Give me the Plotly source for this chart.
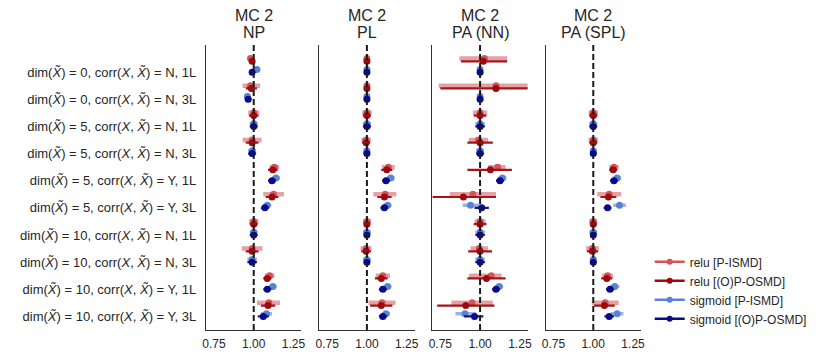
import plotly.graph_objects as go

# row labels (top to bottom)
dims = [0, 0, 5, 5, 5, 5, 10, 10, 10, 10]
corrs = ["N", "N", "N", "N", "Y", "Y", "N", "N", "Y", "Y"]
layers = ["1L", "3L", "1L", "3L", "1L", "3L", "1L", "3L", "1L", "3L"]

panel_top = ["MC 2", "MC 2", "MC 2", "MC 2"]
panel_bottom = ["NP", "PL", "PA (NN)", "PA (SPL)"]
series_names = ["relu [P-ISMD]", "relu [(O)P-OSMD]", "sigmoid [P-ISMD]", "sigmoid [(O)P-OSMD]"]

# --- NP ---
np_relu_p = [0.98, 0.98, 1.00, 0.99, 1.13, 1.125, 1.00, 0.99, 1.10, 1.095]
np_relu_p_lo = [0.965, 0.93, 0.965, 0.93, 1.10, 1.06, 0.97, 0.925, 1.07, 1.02]
np_relu_p_hi = [0.995, 1.04, 1.035, 1.05, 1.16, 1.19, 1.03, 1.055, 1.13, 1.165]
np_relu_o = [0.99, 0.985, 1.00, 0.99, 1.12, 1.115, 1.00, 0.99, 1.085, 1.09]
np_relu_o_lo = [0.975, 0.95, 0.97, 0.95, 1.09, 1.075, 0.975, 0.95, 1.06, 1.045]
np_relu_o_hi = [1.005, 1.02, 1.03, 1.03, 1.15, 1.155, 1.025, 1.03, 1.11, 1.135]
np_sig_p = [1.02, 0.96, 1.00, 0.99, 1.14, 1.085, 1.00, 0.99, 1.12, 1.08]
np_sig_p_lo = [1.005, 0.94, 0.975, 0.965, 1.115, 1.06, 0.975, 0.96, 1.095, 1.045]
np_sig_p_hi = [1.035, 0.98, 1.025, 1.015, 1.165, 1.11, 1.025, 1.02, 1.145, 1.115]
np_sig_o = [0.99, 0.965, 1.00, 0.99, 1.115, 1.07, 1.00, 0.99, 1.085, 1.06]
np_sig_o_lo = [0.98, 0.945, 0.975, 0.965, 1.09, 1.045, 0.975, 0.96, 1.06, 1.025]
np_sig_o_hi = [1.00, 0.985, 1.025, 1.015, 1.14, 1.095, 1.025, 1.02, 1.11, 1.095]

# --- PL ---
pl_relu_p = [1.00, 1.00, 1.00, 0.995, 1.135, 1.115, 1.00, 0.995, 1.10, 1.095]
pl_relu_p_lo = [0.995, 0.995, 0.97, 0.965, 1.095, 1.04, 0.975, 0.96, 1.055, 1.01]
pl_relu_p_hi = [1.005, 1.005, 1.03, 1.025, 1.175, 1.185, 1.025, 1.03, 1.145, 1.18]
pl_relu_o = [1.00, 1.00, 1.00, 0.995, 1.125, 1.11, 1.00, 0.995, 1.09, 1.09]
pl_relu_o_lo = [0.995, 0.995, 0.975, 0.97, 1.09, 1.065, 0.98, 0.965, 1.05, 1.02]
pl_relu_o_hi = [1.005, 1.005, 1.025, 1.02, 1.16, 1.155, 1.02, 1.025, 1.13, 1.16]
pl_sig_p = [1.00, 1.00, 1.00, 1.00, 1.15, 1.13, 1.00, 1.00, 1.13, 1.12]
pl_sig_p_lo = [0.995, 0.995, 0.975, 0.98, 1.125, 1.105, 0.975, 0.975, 1.105, 1.095]
pl_sig_p_hi = [1.005, 1.005, 1.025, 1.02, 1.175, 1.155, 1.025, 1.025, 1.155, 1.145]
pl_sig_o = [1.00, 1.00, 1.00, 1.00, 1.12, 1.11, 1.00, 1.00, 1.10, 1.10]
pl_sig_o_lo = [0.995, 0.995, 0.975, 0.98, 1.095, 1.085, 0.98, 0.98, 1.075, 1.075]
pl_sig_o_hi = [1.005, 1.005, 1.025, 1.02, 1.145, 1.135, 1.02, 1.02, 1.125, 1.125]

# --- PA (NN) ---
nn_relu_p = [1.027, 1.10, 1.00, 0.99, 1.11, 0.955, 1.00, 0.995, 1.07, 0.95]
nn_relu_p_lo = [0.87, 0.74, 0.955, 0.93, 1.05, 0.81, 0.965, 0.94, 0.93, 0.82]
nn_relu_p_hi = [1.17, 1.30, 1.045, 1.05, 1.16, 1.10, 1.035, 1.05, 1.135, 1.08]
nn_relu_o = [1.02, 1.10, 1.00, 1.00, 1.065, 0.895, 1.00, 1.00, 1.04, 0.91]
nn_relu_o_lo = [0.88, 0.75, 0.96, 0.92, 0.92, 0.70, 0.96, 0.925, 0.92, 0.73]
nn_relu_o_hi = [1.17, 1.30, 1.04, 1.08, 1.20, 1.10, 1.04, 1.075, 1.16, 1.09]
nn_sig_p = [1.00, 1.00, 1.00, 1.00, 1.14, 0.94, 1.00, 1.00, 1.12, 0.905]
nn_sig_p_lo = [0.995, 0.995, 0.97, 0.975, 1.115, 0.89, 0.97, 0.97, 1.095, 0.845]
nn_sig_p_hi = [1.005, 1.005, 1.03, 1.025, 1.165, 0.995, 1.03, 1.03, 1.145, 0.975]
nn_sig_o = [1.00, 1.00, 1.00, 1.00, 1.125, 1.01, 1.00, 1.00, 1.10, 0.965]
nn_sig_o_lo = [0.995, 0.995, 0.97, 0.975, 1.10, 0.965, 0.97, 0.97, 1.075, 0.90]
nn_sig_o_hi = [1.005, 1.005, 1.03, 1.025, 1.15, 1.055, 1.03, 1.03, 1.125, 1.02]

# --- PA (SPL) ---
spl_relu_p = [None, None, 1.00, 1.00, 1.13, 1.10, 1.00, 0.995, 1.09, 1.075]
spl_relu_p_lo = [None, None, 0.97, 0.97, 1.10, 1.025, 0.975, 0.955, 1.055, 0.99]
spl_relu_p_hi = [None, None, 1.03, 1.03, 1.16, 1.175, 1.025, 1.035, 1.125, 1.16]
spl_relu_o = [None, None, 1.00, 1.00, 1.125, 1.095, 1.00, 0.995, 1.085, 1.07]
spl_relu_o_lo = [None, None, 0.975, 0.975, 1.10, 1.045, 0.98, 0.96, 1.05, 1.005]
spl_relu_o_hi = [None, None, 1.025, 1.025, 1.15, 1.145, 1.02, 1.03, 1.12, 1.135]
spl_sig_p = [None, None, 1.00, 1.00, 1.15, 1.165, 1.00, 1.00, 1.135, 1.15]
spl_sig_p_lo = [None, None, 0.975, 0.98, 1.125, 1.125, 0.975, 0.98, 1.105, 1.11]
spl_sig_p_hi = [None, None, 1.025, 1.02, 1.175, 1.205, 1.025, 1.02, 1.165, 1.19]
spl_sig_o = [None, None, 1.00, 1.00, 1.13, 1.09, 1.00, 1.00, 1.105, 1.10]
spl_sig_o_lo = [None, None, 0.975, 0.98, 1.105, 1.065, 0.98, 0.98, 1.08, 1.07]
spl_sig_o_hi = [None, None, 1.025, 1.02, 1.155, 1.115, 1.02, 1.02, 1.13, 1.13]

panels = [
    [(np_relu_p, np_relu_p_lo, np_relu_p_hi), (np_relu_o, np_relu_o_lo, np_relu_o_hi),
     (np_sig_p, np_sig_p_lo, np_sig_p_hi), (np_sig_o, np_sig_o_lo, np_sig_o_hi)],
    [(pl_relu_p, pl_relu_p_lo, pl_relu_p_hi), (pl_relu_o, pl_relu_o_lo, pl_relu_o_hi),
     (pl_sig_p, pl_sig_p_lo, pl_sig_p_hi), (pl_sig_o, pl_sig_o_lo, pl_sig_o_hi)],
    [(nn_relu_p, nn_relu_p_lo, nn_relu_p_hi), (nn_relu_o, nn_relu_o_lo, nn_relu_o_hi),
     (nn_sig_p, nn_sig_p_lo, nn_sig_p_hi), (nn_sig_o, nn_sig_o_lo, nn_sig_o_hi)],
    [(spl_relu_p, spl_relu_p_lo, spl_relu_p_hi), (spl_relu_o, spl_relu_o_lo, spl_relu_o_hi),
     (spl_sig_p, spl_sig_p_lo, spl_sig_p_hi), (spl_sig_o, spl_sig_o_lo, spl_sig_o_hi)],
]

marker_colors = ["#d4545c", "#9e0b0e", "#5a82d2", "#0a0a8c"]
bar_colors = ["rgba(212,84,92,0.55)", "rgba(158,11,14,0.95)",
              "rgba(90,130,210,0.6)", "rgba(10,10,140,0.95)"]
bar_widths = [4.5, 2.2, 3.5, 2.2]
offsets = [-0.5, -0.4, -0.1, 0.0]

ticktext = [
    f"dim(<i>X̃</i>) = {d}, corr(<i>X</i>, <i>X̃</i>) = {c}, {l}"
    for d, c, l in zip(dims, corrs, layers)
]

fig = go.Figure()

gap = 18 / 442
w = 97 / 442
for p, series in enumerate(panels):
    xa = "x" if p == 0 else f"x{p + 1}"
    ya = "y" if p == 0 else f"y{p + 1}"
    for s, (m, lo, hi) in enumerate(series):
        ys = [i + offsets[s] for i in range(len(m))]
        plus = [None if v is None else h - v for v, h in zip(m, hi)]
        minus = [None if v is None else v - l for v, l in zip(m, lo)]
        fig.add_trace(go.Scatter(
            x=m, y=ys, mode="markers", xaxis=xa, yaxis=ya, showlegend=False,
            marker=dict(color=marker_colors[s], size=7),
            error_x=dict(type="data", symmetric=False, array=plus, arrayminus=minus,
                         color=bar_colors[s], thickness=bar_widths[s], width=0),
            hoverinfo="skip",
        ))
    x0 = p * (w + gap)
    fig.layout[f"xaxis{p + 1 if p else ''}"] = dict(
        domain=[x0, min(x0 + w, 1)], range=[0.7, 1.3], anchor=ya,
        tickvals=[0.75, 1.0, 1.25], ticktext=["0.75", "1.00", "1.25"],
        showline=True, linecolor="#333333", linewidth=1.3, showgrid=False,
        zeroline=False, ticks="outside", ticklen=2, tickcolor="rgba(0,0,0,0)",
        tickfont=dict(size=12, color="#262626"),
    )
    fig.layout[f"yaxis{p + 1 if p else ''}"] = dict(
        range=[9.5, -1], anchor=xa, showline=True, linecolor="#333333",
        linewidth=1.3, showgrid=False, zeroline=False,
        tickvals=list(range(10)), ticktext=ticktext, showticklabels=(p == 0),
        ticks="outside", ticklen=6, tickcolor="rgba(0,0,0,0)",
        tickfont=dict(size=13, color="#262626"),
    )
    fig.add_shape(type="line", xref=xa, yref=f"{ya} domain", x0=1, x1=1, y0=0, y1=1,
                  line=dict(color="#1a1a1a", width=2, dash="6px,3px"))
    for txt, shift in [(panel_top[p], 30), (panel_bottom[p], 13)]:
        fig.add_annotation(text=txt, xref="paper", yref="paper",
                           x=x0 + w / 2, y=1, yanchor="middle", xanchor="center",
                           showarrow=False, yshift=shift,
                           font=dict(size=16, color="#262626"))

# legend entries
for s, name in enumerate(series_names):
    fig.add_trace(go.Scatter(
        x=[None], y=[None], mode="lines+markers", name=name,
        marker=dict(color=marker_colors[s], size=6),
        line=dict(color=marker_colors[s], width=2.5),
    ))

fig.update_layout(
    width=823, height=355,
    margin=dict(l=191, r=190, t=37, b=31),
    plot_bgcolor="white", paper_bgcolor="white",
    font=dict(family="Liberation Sans, Arial, sans-serif", size=12, color="#262626"),
    legend=dict(x=1.02, y=0.29, xanchor="left", yanchor="top",
                font=dict(size=12), itemwidth=30, tracegroupgap=0),
)

fig.write_html("out.html")
